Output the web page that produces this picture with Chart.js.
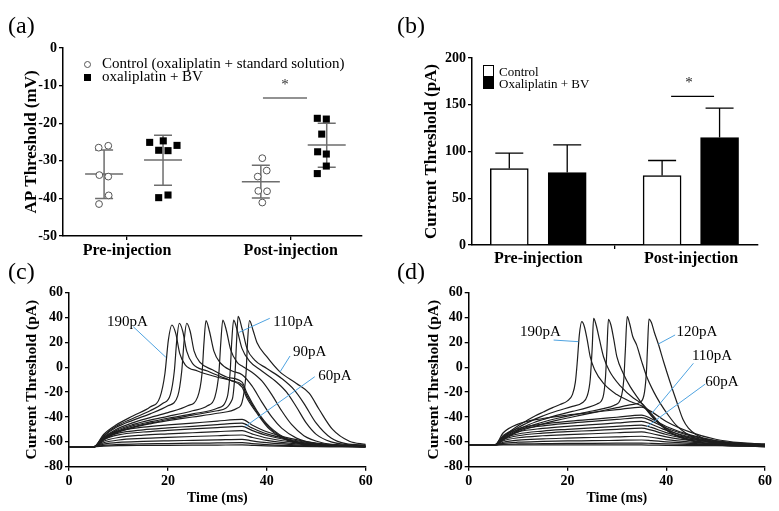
<!DOCTYPE html>
<html><head><meta charset="utf-8">
<script src="https://cdn.jsdelivr.net/npm/chart.js@4.4.1/dist/chart.umd.min.js"></script>
<style>
html,body{margin:0;padding:0;background:#fff;}
#wrap{position:relative;width:779px;height:511px;overflow:hidden;font-family:"Liberation Serif","Times New Roman",serif;color:#000;}
canvas{position:absolute;}
.plabel{position:absolute;font-size:24px;line-height:24px;}
.leg{position:absolute;white-space:nowrap;line-height:1;}
.mk{position:absolute;box-sizing:border-box;}
</style></head><body>
<div id="wrap">
<canvas id="ca" width="390" height="275" style="left:0;top:0"></canvas>
<canvas id="cb" width="389" height="275" style="left:390px;top:0"></canvas>
<canvas id="cc" width="390" height="236" style="left:0;top:275px"></canvas>
<canvas id="cd" width="389" height="236" style="left:390px;top:275px"></canvas>
<div class="plabel" style="left:8px;top:13px">(a)</div>
<div class="plabel" style="left:397px;top:13px">(b)</div>
<div class="plabel" style="left:8px;top:259px">(c)</div>
<div class="plabel" style="left:397px;top:259px">(d)</div>
<div class="mk" style="left:84px;top:61px;width:7px;height:7px;border:1px solid #555;border-radius:50%"></div>
<div class="leg" style="left:102px;top:56px;font-size:15px">Control (oxaliplatin + standard solution)</div>
<div class="mk" style="left:84px;top:74px;width:7px;height:7px;background:#000"></div>
<div class="leg" style="left:102px;top:69px;font-size:15px">oxaliplatin + BV</div>
<div class="mk" style="left:483px;top:65px;width:11px;height:12px;border:1px solid #000;background:#fff"></div>
<div class="mk" style="left:483px;top:77px;width:11px;height:12px;background:#000"></div>
<div class="leg" style="left:499px;top:65px;font-size:13px">Control</div>
<div class="leg" style="left:499px;top:77px;font-size:13px">Oxaliplatin + BV</div>
</div>
<script>
const FONT = '"Liberation Serif","Times New Roman",serif';

// ---------- Panel (a) ----------
const aCats = ['Pre-injection','Post-injection'];
const aCatPos = [1,3];
const aYTicks = [0,-10,-20,-30,-40,-50];
const aCtrlPreX = [0.654,0.771,0.662,0.771,0.776,0.658];
const aCtrlPreY = [-26.5,-26.0,-33.8,-34.2,-39.2,-41.5];
const aBvPreX = [1.277,1.443,1.387,1.501,1.611,1.387,1.501];
const aBvPreY = [-25.1,-24.7,-27.2,-27.3,-25.9,-39.8,-39.1];
const aCtrlPostX = [2.653,2.707,2.597,2.604,2.711,2.653];
const aCtrlPostY = [-29.3,-32.6,-34.2,-38.0,-38.1,-41.1];
const aBvPostX = [3.325,3.435,3.379,3.329,3.435,3.435,3.325];
const aBvPostY = [-18.7,-18.9,-22.9,-27.6,-28.2,-31.4,-33.4];
const aGroupX = [0.72,1.44,2.635,3.44];
const aMean = [-33.5,-29.8,-35.6,-25.8];
const aSdHi = [-27.1,-23.2,-31.2,-20.0];
const aSdLo = [-40.0,-36.5,-39.9,-31.7];
const aSigX = [2.661,3.199], aSigY = -13.3, aStarX = 2.93, aStarY = -9.8;

// ---------- Panel (b) ----------
const bCats = ['Pre-injection','Post-injection'];
const bCatPos = [1,3];
const bYTicks = [0,50,100,150,200];
const bCtrlX = [0.621,2.621];
const bCtrl = [81.8,74.3];
const bCtrlErr = [98.2,90.4];
const bBvX = [1.379,3.373];
const bBv = [77.5,115.0];
const bBvErr = [107.0,146.4];
const bSigX = [2.739,3.301], bSigY = 159, bStarX = 2.974, bStarY = 173;

// ---------- Panels (c),(d) ----------
const tTicks = [0,20,40,60];
const vTicks = [60,40,20,0,-20,-40,-60,-80];

const cSubT = [0,5,7,10,15,20,25,30,35,37,40,45,50,55,60];
const cSub1 = [-64,-64,-56.3,-51.2,-48.2,-46.4,-44.9,-43.3,-42,-46.4,-51.9,-57.4,-61.1,-62.9,-63.6];
const cSub2 = [-64,-64,-57.4,-53,-50.3,-48.8,-47.5,-46.1,-45,-48.8,-53.6,-58.3,-61.5,-63,-63.6];
const cSub3 = [-64,-64,-58.2,-54.4,-52.1,-50.8,-49.6,-48.5,-47.5,-50.8,-54.9,-59,-61.9,-63.2,-63.7];
const cSub4 = [-64,-64,-59.5,-56.5,-54.6,-53.6,-52.7,-51.8,-51,-53.6,-56.9,-60.1,-62.3,-63.4,-63.7];
const cSub5 = [-64,-64,-60.7,-58.5,-57.2,-56.4,-55.7,-55.1,-54.5,-56.4,-58.8,-61.2,-62.8,-63.5,-63.8];
const cSub6 = [-64,-64,-61.9,-60.5,-59.7,-59.2,-58.8,-58.4,-58,-59.2,-60.7,-62.2,-63.2,-63.7,-63.9];
const cSub7 = [-64,-64,-62.8,-62.1,-61.6,-61.4,-61.1,-60.9,-60.7,-61.4,-62.2,-63,-63.6,-63.8,-63.9];
const cSub8 = [-64,-64,-63.5,-63.1,-62.9,-62.8,-62.7,-62.6,-62.5,-62.8,-63.2,-63.6,-63.8,-63.9,-64];

const cSpk1 = [[0,-64],[5,-64],[7,-54],[9.5,-46.5],[13,-39],[16.4,-32],[18.4,-24],[19.4,-5],[20.1,22],[20.8,34],[21.6,27],[22.4,11],[23.5,2],[26,-3],[30,-8],[33,-11],[35,-16],[36,-25],[38,-37],[40.6,-50],[44.6,-59.5],[50,-62.5],[55,-63.5],[60,-64]];
const cSpk2 = [[0,-64],[5,-64],[7,-55],[9.5,-47.5],[13,-41],[16.4,-35],[19,-29],[20.5,-22],[21.3,-3],[21.8,22],[22.3,35.4],[23,29],[23.8,13],[25,3],[28,-3],[31,-8],[33,-11],[35,-14],[36,-23],[38,-36],[40.6,-49],[44.6,-59],[50,-62.5],[55,-63.3],[60,-63.8]];
const cSpk3 = [[0,-64],[5,-64],[7,-55.5],[9.5,-48.5],[13,-42.5],[16.4,-37.5],[20,-31],[22,-23],[22.8,-3],[23.3,22],[23.8,35.4],[24.5,29],[25.3,13],[26.5,4],[29,-2],[32,-8],[35,-12],[36,-21],[38,-35],[40.6,-48],[44.6,-58.5],[50,-62.3],[55,-63.3],[60,-63.7]];
const cSpk4 = [[0,-64],[5,-64],[7,-56.5],[9.5,-50],[13,-44.5],[16.4,-40.5],[20,-36.5],[24,-31],[26,-24],[26.9,-5],[27.3,20],[27.7,37.5],[28.4,29],[29.3,13],[30.5,4],[33,-3],[35,-6],[37,-15],[39,-28],[41,-40],[43,-49],[46,-57],[50,-61.5],[55,-63.3],[60,-64]];
const cSpk5 = [[0,-64],[5,-64],[7,-57],[9.5,-51],[13,-46],[16.4,-42.5],[20,-39.5],[25,-35],[28,-31],[29.5,-24],[30.3,-5],[30.7,20],[31.1,38],[31.8,30],[32.7,14],[34,4],[35,1],[37,-4],[39,-11],[41,-22],[43,-35],[45,-46],[47.5,-55],[51,-60.5],[55,-62.5],[60,-63.5]];
const cSpk6 = [[0,-64],[5,-64],[7,-57.5],[9.5,-52],[13,-47],[16.4,-44],[20,-41],[25,-37.5],[30,-33],[32,-24],[32.6,-3],[32.9,20],[33.3,38],[34,30],[35,15],[36.5,5],[39,-3],[42,-12],[44,-20],[46,-32],[48,-45],[50,-54],[53,-60],[57,-62.5],[60,-63]];
const cSpk7 = [[0,-64],[5,-64],[7,-58],[9.5,-52.5],[13,-48],[16.4,-45],[20,-42],[25,-38.5],[30,-35],[33,-26],[33.6,-3],[33.9,22],[34.2,41],[35,31],[36,15],[37.5,6],[40,-1],[43,-9],[45.5,-18],[47.5,-29],[50,-45],[53,-57],[56,-61.5],[60,-62.5]];
const cSpk8 = [[0,-64],[5,-64],[7,-58.5],[9.5,-53],[13,-48.5],[16.4,-45.5],[20,-43],[25,-40],[30,-37],[34,-33],[35,-28],[35.8,-5],[36.1,20],[36.5,37.5],[37.2,30],[38,20],[40,8.5],[42.6,-3.5],[46,-13],[48.6,-21],[50.6,-34],[53.3,-50],[56.7,-59.5],[60,-62]];

const dSubT = [0,5.3,7,10,15,20,25,30,35,37,40,45,50,55,60];
const dSub1 = [-62.5,-62.5,-52.7,-45.7,-41.2,-38.4,-36.3,-34.1,-32,-35.7,-43.6,-52.4,-57.9,-60.7,-61.9];
const dSub2 = [-62.5,-62.5,-54.8,-49.3,-45.7,-43.5,-41.9,-40.2,-38.5,-41.4,-47.6,-54.6,-58.9,-61.1,-62];
const dSub3 = [-62.5,-62.5,-55.5,-50.4,-47.1,-45.1,-43.6,-42,-40.5,-43.1,-48.9,-55.2,-59.2,-61.2,-62.1];
const dSub4 = [-62.5,-62.5,-56.4,-52,-49.2,-47.5,-46.2,-44.8,-43.5,-45.8,-50.7,-56.2,-59.7,-61.4,-62.1];
const dSub5 = [-62.5,-62.5,-57.4,-53.7,-51.3,-49.9,-48.7,-47.6,-46.5,-48.4,-52.6,-57.2,-60.1,-61.5,-62.2];
const dSub6 = [-62.5,-62.5,-58.2,-55.1,-53,-51.8,-50.9,-49.9,-49,-50.6,-54.1,-58,-60.5,-61.7,-62.2];
const dSub7 = [-62.5,-62.5,-59.1,-56.7,-55.1,-54.2,-53.5,-52.7,-52,-53.3,-56,-59,-60.9,-61.9,-62.3];
const dSub8 = [-62.5,-62.5,-60.3,-58.6,-57.6,-57,-56.5,-56,-55.5,-56.3,-58.2,-60.2,-61.5,-62.1,-62.4];
const dSub9 = [-62.5,-62.5,-61.2,-60.3,-59.7,-59.3,-59.1,-58.8,-58.5,-59,-60,-61.2,-61.9,-62.3,-62.4];
const dSub10 = [-62.5,-62.5,-62,-61.7,-61.5,-61.3,-61.2,-61.1,-61,-61.2,-61.6,-62,-62.3,-62.4,-62.5];
const dSub11 = [-62.5,-62.5,-62.5,-62.5,-62.5,-62.5,-62.5,-62.5,-62.5,-62.6,-62.8,-63,-63.1,-63.2,-63.3];

const dSpk1 = [[0,-62.5],[5.3,-62.5],[6.5,-57.5],[8.4,-51.5],[10,-47],[11.7,-43],[13.5,-39],[15.1,-36],[17,-32.5],[18.5,-30],[20,-27],[21,-22],[21.6,-12],[22,5],[22.4,26],[22.9,36.7],[23.4,33],[24,22],[24.6,8.5],[25.5,-2],[27.3,-13],[30,-22],[33,-28],[35,-31],[36,-34],[38,-43],[40,-50],[42,-55],[45,-59],[48,-61.5],[52,-63],[56,-63.5],[60,-64]];
const dSpk2 = [[0,-62.5],[5.3,-62.5],[6.5,-58],[8.4,-52.5],[10,-48.5],[11.7,-45],[13.5,-41.5],[15.1,-39],[18,-35],[21,-31.5],[23,-28.5],[24,-23],[24.6,-10],[25,15],[25.3,39.4],[25.8,34],[26.5,22],[27.3,8.5],[28.5,-3],[30.7,-15],[33.4,-25],[35,-29],[36,-33],[38,-42],[40,-50.5],[43,-56],[46,-59.5],[50,-62],[55,-63.3],[60,-63.8]];
const dSpk3 = [[0,-62.5],[5.3,-62.5],[6.5,-58.5],[8.4,-53.5],[10,-50],[11.7,-47],[13.5,-44],[15.1,-42],[18,-38.5],[21,-35.5],[24,-32.5],[26,-29.5],[27.2,-24],[27.7,-8],[28,15],[28.3,38.6],[28.8,34],[29.4,22],[30,8.5],[31.3,-5],[32.7,-15.6],[34.5,-26],[35.4,-31],[37.4,-41],[40,-49],[41.5,-52.5],[45,-57],[48.2,-59.5],[53,-61.5],[60,-62.5]];
const dSpk4 = [[0,-62.5],[5.3,-62.5],[6.5,-59],[8.4,-54.5],[10,-51],[11.7,-48.5],[13.5,-46],[15.1,-44],[18,-41],[21,-38.5],[24,-36],[27,-33.5],[29.5,-30.5],[30.8,-25],[31.4,-10],[31.7,12],[32.1,40.7],[32.6,35],[33.2,25],[34,18],[35,5],[36,-7],[37.5,-20],[38.7,-28.4],[40.5,-39],[42.1,-47],[44,-53],[46.2,-57.5],[50,-60.5],[55,-62],[60,-62.5]];
const dSpk5 = [[0,-62.5],[5.3,-62.5],[6.5,-59.5],[8.4,-55],[10,-52],[11.7,-49.5],[13.5,-47.5],[15.1,-45.5],[18,-42.5],[21,-40],[24,-37.5],[27,-35],[30,-32.5],[33,-30],[34.8,-28],[35.6,-20],[36,-3],[36.2,15],[36.5,38.8],[37,36],[37.6,28],[38.4,18.7],[39.5,4],[40.7,-11],[42.1,-27.5],[43.4,-42],[44.5,-49],[46.2,-54.5],[48.9,-59.5],[52,-61.8],[56,-62.8],[60,-63.5]];

// leader labels: [text, textT, textV, lineT1, lineV1, lineT2, lineV2]
const cNotes = [['190pA',7.7,36.4,13.0,32.6,19.6,8.0],['110pA',41.3,36.0,40.6,39.4,34.4,28.1],['90pA',45.3,11.9,44.7,9.1,42.7,-3.6],['60pA',50.4,-7.0,49.7,-7.6,35.6,-47.8]];
const dNotes = [['190pA',10.4,28.1,17.2,21.9,22.2,20.6],['120pA',42.1,28.1,41.8,26.0,38.4,18.7],['110pA',45.2,9.3,45.5,3.2,37.1,-37.0],['60pA',47.9,-12.1,47.9,-13.5,36.1,-47.8]];

// ---------- helpers ----------
const zip = (xs, ys) => xs.map((x,i)=>({x, y: ys[i]}));
const pairs = arr => arr.map(p=>({x:p[0], y:p[1]}));
const tickFont = (s)=>({family:FONT, size:s, weight:'bold'});
function axisCommon(){
  return {
    grid:{display:true, drawOnChartArea:false, drawTicks:true, tickLength:4, color:'#000', lineWidth:1.3},
    border:{display:true, color:'#000', width:1.5},
  };
}
function fixedTicks(list){ return s => { s.ticks = list.map(v=>({value:v})); }; }

Chart.defaults.font.family = FONT;
Chart.defaults.color = '#000';

// ---------- Chart (a) ----------
const aPlugin = {
  id:'aStats',
  beforeDatasetsDraw(chart){
    const {ctx, scales:{x,y}} = chart;
    ctx.save();
    ctx.strokeStyle = '#6e6e6e'; ctx.lineWidth = 1.5;
    aGroupX.forEach((gx,i)=>{
      const px = x.getPixelForValue(gx);
      const pm = y.getPixelForValue(aMean[i]);
      const ph = y.getPixelForValue(aSdHi[i]);
      const pl = y.getPixelForValue(aSdLo[i]);
      ctx.beginPath();
      ctx.moveTo(px-19, pm); ctx.lineTo(px+19, pm);
      ctx.moveTo(px, ph); ctx.lineTo(px, pl);
      ctx.moveTo(px-9, ph); ctx.lineTo(px+9, ph);
      ctx.moveTo(px-9, pl); ctx.lineTo(px+9, pl);
      ctx.stroke();
    });
    ctx.beginPath();
    ctx.moveTo(x.getPixelForValue(aSigX[0]), y.getPixelForValue(aSigY));
    ctx.lineTo(x.getPixelForValue(aSigX[1]), y.getPixelForValue(aSigY));
    ctx.stroke();
    ctx.fillStyle = '#333'; ctx.font = '15px '+FONT; ctx.textAlign='center'; ctx.textBaseline='middle';
    ctx.fillText('*', x.getPixelForValue(aStarX), y.getPixelForValue(aStarY));
    ctx.restore();
  }
};
new Chart(document.getElementById('ca'), {
  type:'scatter',
  data:{datasets:[
    {label:'Control (oxaliplatin + standard solution)', data: zip(aCtrlPreX,aCtrlPreY).concat(zip(aCtrlPostX,aCtrlPostY)),
     pointStyle:'circle', pointRadius:3.4, borderColor:'#555', backgroundColor:'#fff', borderWidth:1},
    {label:'oxaliplatin + BV', data: zip(aBvPreX,aBvPreY).concat(zip(aBvPostX,aBvPostY)),
     pointStyle:'rect', pointRadius:5, borderColor:'#000', backgroundColor:'#000', borderWidth:0}
  ]},
  options:{
    responsive:false, animation:false,
    layout:{padding:{left:0,right:28,top:48,bottom:9}},
    plugins:{legend:{display:false}, tooltip:{enabled:false}},
    scales:{
      x:Object.assign(axisCommon(),{type:'linear', min:0.218, max:3.871, afterBuildTicks:fixedTicks(aCatPos),
         ticks:{font:tickFont(16), color:'#000', padding:1, maxRotation:0, callback:v=>aCats[aCatPos.indexOf(v)]},
         afterFit:s=>{s.height=30;}}),
      y:Object.assign(axisCommon(),{type:'linear', min:-50, max:0, afterBuildTicks:fixedTicks(aYTicks),
         ticks:{font:tickFont(14), color:'#000', padding:2, callback:v=>String(v)},
         title:{display:true, text:'AP Threshold (mV)', font:tickFont(17), color:'#000', padding:{top:21,bottom:0}},
         afterFit:s=>{s.width=63;}})
    }
  },
  plugins:[aPlugin]
});

// ---------- Chart (b) ----------
const bPlugin = {
  id:'bErr',
  afterDatasetsDraw(chart){
    const {ctx, scales:{x,y}} = chart;
    ctx.save();
    ctx.strokeStyle = '#000'; ctx.lineWidth = 1.3;
    const draw = (xs, ms, es) => xs.forEach((gx,i)=>{
      const px = x.getPixelForValue(gx);
      const pm = y.getPixelForValue(ms[i]);
      const pe = y.getPixelForValue(es[i]);
      ctx.beginPath();
      ctx.moveTo(px, pm); ctx.lineTo(px, pe);
      ctx.moveTo(px-14, pe); ctx.lineTo(px+14, pe);
      ctx.stroke();
    });
    draw(bCtrlX,bCtrl,bCtrlErr); draw(bBvX,bBv,bBvErr);
    ctx.beginPath();
    ctx.moveTo(x.getPixelForValue(bSigX[0]), y.getPixelForValue(bSigY));
    ctx.lineTo(x.getPixelForValue(bSigX[1]), y.getPixelForValue(bSigY));
    ctx.stroke();
    ctx.fillStyle = '#222'; ctx.font = '15px '+FONT; ctx.textAlign='center'; ctx.textBaseline='middle';
    ctx.fillText('*', x.getPixelForValue(bStarX), y.getPixelForValue(bStarY));
    ctx.restore();
  }
};
new Chart(document.getElementById('cb'), {
  type:'bar',
  data:{datasets:[
    {label:'Control', data: zip(bCtrlX,bCtrl), backgroundColor:'#fff', borderColor:'#000', borderWidth:1.5, barThickness:38, grouped:false, borderSkipped:'start'},
    {label:'Oxaliplatin + BV', data: zip(bBvX,bBv), backgroundColor:'#000', borderColor:'#000', borderWidth:1.5, barThickness:38, grouped:false, borderSkipped:'start'}
  ]},
  options:{
    responsive:false, animation:false,
    layout:{padding:{left:0,right:21,top:58,bottom:0}},
    plugins:{legend:{display:false}, tooltip:{enabled:false}},
    scales:{
      x:Object.assign(axisCommon(),{type:'linear', offset:false, min:0.133, max:3.876, afterBuildTicks:fixedTicks(bCatPos),
         ticks:{font:tickFont(16), color:'#000', padding:0, maxRotation:0, callback:v=>bCats[bCatPos.indexOf(v)]},
         afterFit:s=>{s.height=30;}}),
      y:Object.assign(axisCommon(),{type:'linear', min:0, max:200, afterBuildTicks:fixedTicks(bYTicks),
         ticks:{font:tickFont(14), color:'#000', padding:2, callback:v=>String(v)},
         title:{display:true, text:'Current Threshold (pA)', font:tickFont(17), color:'#000', padding:{top:31,bottom:0}},
         afterFit:s=>{s.width=82;}})
    }
  },
  plugins:[bPlugin]
});

// ---------- Charts (c),(d) ----------
function notesPlugin(notes){
  return {
    id:'notes',
    afterDatasetsDraw(chart){
      const {ctx, scales:{x,y}} = chart;
      ctx.save();
      ctx.strokeStyle = '#4fa3e0'; ctx.lineWidth = 1;
      ctx.font = '15px '+FONT; ctx.fillStyle='#000'; ctx.textAlign='left'; ctx.textBaseline='middle';
      notes.forEach(n=>{
        ctx.beginPath();
        ctx.moveTo(x.getPixelForValue(n[3]), y.getPixelForValue(n[4]));
        ctx.lineTo(x.getPixelForValue(n[5]), y.getPixelForValue(n[6]));
        ctx.stroke();
        ctx.fillText(n[0], x.getPixelForValue(n[1]), y.getPixelForValue(n[2]));
      });
      ctx.restore();
    }
  };
}
function traceDs(points){
  return {data:points, showLine:true, pointRadius:0, borderColor:'#1e1e1e', borderWidth:1.2,
          cubicInterpolationMode:'monotone', fill:false};
}
function traceChart(id, datasets, notes, yW, padR, titlePad){
  new Chart(document.getElementById(id), {
    type:'scatter',
    data:{datasets},
    options:{
      responsive:false, animation:false,
      layout:{padding:{left:0,right:padR,top:17.7,bottom:4.3}},
      plugins:{legend:{display:false}, tooltip:{enabled:false}},
      scales:{
        x:Object.assign(axisCommon(),{type:'linear', min:0, max:60, afterBuildTicks:fixedTicks(tTicks),
           ticks:{font:tickFont(14), color:'#000', padding:2, maxRotation:0, callback:v=>String(v)},
           title:{display:true, text:'Time (ms)', font:tickFont(14), color:'#000', padding:{top:0,bottom:0}},
           afterFit:s=>{s.height=40;}}),
        y:Object.assign(axisCommon(),{type:'linear', min:-80, max:60, afterBuildTicks:fixedTicks(vTicks),
           ticks:{font:tickFont(14), color:'#000', padding:2, callback:v=>String(v)},
           title:{display:true, text:'Current Threshold (pA)', font:tickFont(15.5), color:'#000', padding:{top:titlePad,bottom:0}},
           afterFit:s=>{s.width=yW;}})
      }
    },
    plugins:[notesPlugin(notes)]
  });
}
const cSubs = [cSub1,cSub2,cSub3,cSub4,cSub5,cSub6,cSub7,cSub8];
const cSpks = [cSpk1,cSpk2,cSpk3,cSpk4,cSpk5,cSpk6,cSpk7,cSpk8];
traceChart('cc', cSubs.map(s=>traceDs(zip(cSubT,s))).concat(cSpks.map(s=>traceDs(pairs(s)))), cNotes, 69, 24.3, 22.7);
const dSubs = [dSub1,dSub2,dSub3,dSub4,dSub5,dSub6,dSub7,dSub8,dSub9,dSub10,dSub11];
const dSpks = [dSpk1,dSpk2,dSpk3,dSpk4,dSpk5];
traceChart('cd', dSubs.map(s=>traceDs(zip(dSubT,s))).concat(dSpks.map(s=>traceDs(pairs(s)))), dNotes, 78.7, 14, 34.2);
</script>
</body></html>
